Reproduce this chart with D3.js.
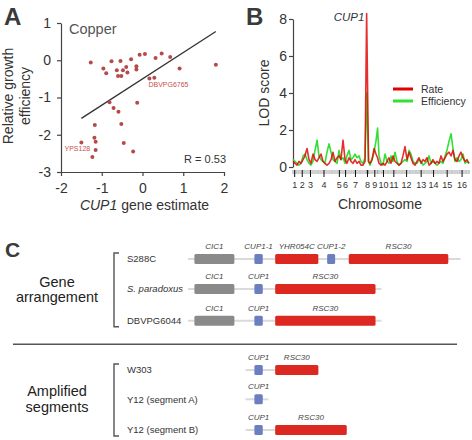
<!DOCTYPE html>
<html><head><meta charset="utf-8">
<script src="https://cdn.jsdelivr.net/npm/d3@7"></script>
<style>body{margin:0;background:#fff} svg{display:block;font-family:"Liberation Sans",Arial,sans-serif}</style>
</head><body><svg id="c" width="472" height="440"></svg>
<script>
// ---------- Panel A data ----------
const cupEstimate = [-1.27,-0.96,-0.89,-0.76,-0.63,-0.54,-0.60,-0.52,-0.48,-0.40,-0.37,-0.28,-0.15,-0.15,-0.07,0.06,0.32,0.47,0.68,0.91,1.80,0.17,0.29,-0.81,-0.13,-0.71,-0.59,-1.17,-0.52,-1.18,-1.15,-1.50,-0.46,-1.15,-1.23,-0.23];
const growthEfficiency = [-0.06,-0.22,-0.35,-0.03,-0.27,-0.02,-0.42,-0.42,-0.27,-0.18,-0.33,0.03,-0.16,-0.25,0.15,0.17,0.06,0.18,0.09,-0.22,-0.12,-0.49,-0.47,-1.13,-1.14,-1.28,-1.38,-1.74,-1.71,-2.08,-2.19,-2.21,-2.22,-2.41,-2.60,-2.45];
const labeledStrains = ["DBVPG6765","YPS128"];
const labeledIndex = [21,31];
const trendX = [-1.5,1.8];
const trendY = [-1.56,0.77];
const aXTicks = [-2,-1,0,1,2];
const aYTicks = [1,0,-1,-2,-3];
const rText = "R = 0.53";

// ---------- Panel B data ----------
const positionsMb = [0.00,0.14,0.27,0.41,0.55,0.69,0.82,0.96,1.10,1.23,1.37,1.51,1.65,1.78,1.92,2.06,2.19,2.33,2.47,2.61,2.74,2.88,3.02,3.16,3.29,3.43,3.57,3.70,3.84,3.98,4.12,4.25,4.39,4.53,4.66,4.80,4.94,5.05,5.18,5.28,5.42,5.56,5.69,5.80,5.90,6.04,6.17,6.31,6.45,6.58,6.72,6.86,7.00,7.13,7.27,7.41,7.54,7.68,7.82,7.96,8.09,8.23,8.37,8.50,8.64,8.78,8.92,9.05,9.19,9.33,9.47,9.60,9.74,9.88,10.01,10.15,10.29,10.43,10.56,10.70,10.84,10.97,11.11,11.25,11.39,11.52,11.66,11.80,11.93,12.07];
const lodRate = [0.3,0.2,0.1,0.3,0.2,0.4,0.6,1.0,0.4,0.2,0.7,0.4,0.3,0.5,0.7,0.3,0.2,0.1,0.2,0.4,0.8,0.3,0.5,0.6,0.4,1.45,0.4,0.2,0.5,0.3,0.2,0.4,0.2,0.3,0.1,0.1,0.3,
  8.3,0.3,0.2,0.4,1.0,0.7,0.5,
  0.2,0.1,0.2,0.1,0.3,0.5,0.2,0.6,0.3,0.2,0.1,0.2,0.6,1.1,0.4,0.8,0.5,0.2,0.1,0.3,0.5,0.2,0.4,0.3,0.5,0.1,0.2,0.4,0.2,0.3,0.2,0.6,0.3,0.5,0.7,0.8,0.6,0.9,0.4,0.3,0.6,0.8,0.5,0.3,0.4,0.2];
const lodEfficiency = [0.4,0.3,0.2,0.1,0.2,0.6,0.7,0.4,0.2,0.1,0.3,0.9,1.45,0.6,0.4,0.3,0.2,0.8,1.25,0.8,0.4,0.3,0.2,0.9,0.4,0.5,0.2,0.6,0.9,0.4,0.5,0.7,0.5,0.6,0.3,0.2,0.5,
  4.0,0.3,0.1,0.4,0.8,1.4,2.1,
  0.6,0.2,0.1,0.7,0.3,0.2,0.6,0.3,0.8,0.3,0.1,0.2,0.3,0.4,0.3,0.9,0.7,0.3,0.2,0.2,0.4,0.3,0.1,0.2,0.3,0.6,0.2,0.3,0.2,0.1,0.2,0.3,0.2,0.6,0.9,1.4,1.8,1.0,0.3,0.5,0.3,0.4,0.7,0.2,0.3,0.2];
const chromNames = ["1","2","3","4","5","6","7","8","9","10","11","12","13","14","15","16"];
const chromLengthsMb = [0.23,0.81,0.32,1.53,0.58,0.27,1.09,0.56,0.44,0.75,0.67,1.08,0.92,0.78,1.09,0.95];
const bYTicks = [0,2,4,6,8];
const seriesNames = ["Rate","Efficiency"];
const peakLabel = "CUP1";

// ---------- Panel C data ----------
const strainNames = ["S288C","S. paradoxus","DBVPG6044","W303","Y12 (segment A)","Y12 (segment B)"];
const strainItalic = [false,true,false,false,false,false];
const trackStart = [0,0,0,14.4,14.4,14.4];
const trackEnd = [68.2,48.4,48.4,32.6,20.1,39.7];
const geneNames = [
  ["CIC1","CUP1-1","YHR054C","CUP1-2","RSC30"],
  ["CIC1","CUP1","RSC30"],
  ["CIC1","CUP1","RSC30"],
  ["CUP1","RSC30"],
  ["CUP1"],
  ["CUP1","RSC30"]];
const geneStart = [[1.6,16.6,21.8,34.8,40.2],[1.6,16.6,21.8],[1.6,16.6,21.8],[16.6,21.8],[16.6],[16.6,21.8]];
const geneEnd = [[11.6,18.7,32.6,36.8,65.1],[11.6,18.7,46.9],[11.6,18.7,46.9],[18.7,32.6],[18.7],[18.7,39.7]];
const geneKind = [["cic","cup","red","cup","red"],["cic","cup","red"],["cic","cup","red"],["cup","red"],["cup"],["cup","red"]];
const groupNames = [["Gene","arrangement"],["Amplified","segments"]];

// ================= Drawing =================
const svg = d3.select("#c");
svg.append("rect").attr("width",472).attr("height",440).attr("fill","#fff");
const txt = "#333", axc = "#444";

// panel letters
[["A",4,25],["B",246,25],["C",5,257]].forEach(([t,x,y])=>{
  svg.append("text").attr("x",x).attr("y",y).text(t)
    .attr("font-size",t==="C"?21:24).attr("font-weight","bold").attr("fill","#3a3a3a");
});

// ----- Panel A -----
const ax = d3.scaleLinear().domain([-2,2]).range([61,224]);
const ay = d3.scaleLinear().domain([-3,1]).range([172,23]);
const gA = svg.append("g");
const yAxA = gA.append("g").attr("transform","translate(61,0)")
  .call(d3.axisLeft(ay).tickValues(aYTicks).tickSize(4).tickSizeOuter(0).tickPadding(6));
const xAxA = gA.append("g").attr("transform","translate(0,172)")
  .call(d3.axisBottom(ax).tickValues(aXTicks).tickSize(4).tickSizeOuter(0).tickPadding(7).tickFormat(d3.format("d")));
[yAxA,xAxA].forEach(g=>{
  g.selectAll("path,line").attr("stroke",axc).attr("stroke-width",1.2);
  g.selectAll("text").attr("font-size",14).attr("fill",txt).attr("font-family","Liberation Sans, Arial, sans-serif");
});
xAxA.selectAll("text").text(d=>d<0?"-"+Math.abs(d):d);
yAxA.selectAll("text").text(d=>d<0?"-"+Math.abs(d):d);

gA.append("line").attr("x1",ax(trendX[0])).attr("y1",ay(trendY[0]))
  .attr("x2",ax(trendX[1])).attr("y2",ay(trendY[1])).attr("stroke","#333").attr("stroke-width",1.3);
gA.selectAll("circle.pt").data(cupEstimate.map((x,i)=>[x,growthEfficiency[i]])).join("circle")
  .attr("cx",d=>ax(d[0])).attr("cy",d=>ay(d[1])).attr("r",2).attr("fill","#b54a4a");
labeledStrains.forEach((name,k)=>{
  const i = labeledIndex[k];
  const px = ax(cupEstimate[i]), py = ay(growthEfficiency[i]);
  const t = gA.append("text").text(name).attr("font-size",7).attr("fill","#c8504c");
  if(k===0) t.attr("x",px-1).attr("y",py+8.5);
  else t.attr("x",px-4).attr("y",py+8.5).attr("text-anchor","middle");
});
gA.append("text").attr("x",69).attr("y",33.5).text("Copper").attr("font-size",14.5).attr("fill","#555");
gA.append("text").attr("x",226).attr("y",163.3).attr("text-anchor","end").text(rText).attr("font-size",11).attr("fill",txt);
const xt = gA.append("text").attr("x",144.5).attr("y",209.5).attr("text-anchor","middle").attr("font-size",14).attr("fill",txt);
xt.append("tspan").attr("font-style","italic").text("CUP1");
xt.append("tspan").text(" gene estimate");
const yt = gA.append("text").attr("transform","translate(13,96) rotate(-90)").attr("text-anchor","middle").attr("font-size",14).attr("fill",txt);
yt.append("tspan").attr("x",0).attr("y",0).text("Relative growth");
yt.append("tspan").attr("x",0).attr("y",17).text("efficiency");

// ----- Panel B -----
const bx = d3.scaleLinear().domain([0,d3.sum(chromLengthsMb)]).range([293,469]);
const by = d3.scaleLinear().domain([0,8]).range([167,19]);
const gB = svg.append("g");
const yAxB = gB.append("g").attr("transform","translate(293,0)")
  .call(d3.axisLeft(by).tickValues(bYTicks).tickSize(4).tickSizeOuter(0).tickPadding(2));
yAxB.selectAll("path,line").attr("stroke",axc).attr("stroke-width",1.2);
yAxB.selectAll("text").attr("font-size",14).attr("fill",txt).attr("font-family","Liberation Sans, Arial, sans-serif");

// marker ticks
gB.selectAll("line.mk").data(positionsMb).join("line")
  .attr("x1",d=>bx(d)).attr("x2",d=>bx(d)).attr("y1",170).attr("y2",174)
  .attr("stroke","#888").attr("stroke-width",0.8);
let cum = 0;
const chromCenters = chromLengthsMb.map(l=>{const c=cum+l/2; cum+=l; return c;});
gB.selectAll("line.ch").data(chromCenters).join("line")
  .attr("x1",d=>bx(d)).attr("x2",d=>bx(d)).attr("y1",170).attr("y2",177)
  .attr("stroke","#111").attr("stroke-width",1);
gB.selectAll("text.ch").data(chromNames).join("text")
  .attr("x",(d,i)=>bx(chromCenters[i])).attr("y",187.5).attr("text-anchor","middle")
  .attr("font-size",9).attr("fill",txt).text(d=>d);

const line = d3.line().x((d,i)=>bx(positionsMb[i])).y(d=>by(d));
gB.append("path").datum(lodEfficiency).attr("d",line).attr("fill","none")
  .attr("stroke","#33e033").attr("stroke-width",1.6).attr("stroke-linejoin","round");
gB.append("path").datum(lodRate).attr("d",line).attr("fill","none")
  .attr("stroke","#e00000").attr("stroke-width",1.6).attr("stroke-opacity",0.82).attr("stroke-linejoin","round");

gB.append("text").attr("x",349).attr("y",21).attr("text-anchor","middle").attr("font-style","italic")
  .attr("font-size",11.5).attr("fill",txt).text(peakLabel);
const legCol = ["#e00000","#33e033"];
seriesNames.forEach((s,i)=>{
  const y = 89 + i*12;
  gB.append("line").attr("x1",393).attr("x2",413).attr("y1",y).attr("y2",y).attr("stroke",legCol[i]).attr("stroke-width",3);
  gB.append("text").attr("x",421).attr("y",y+3.8).text(s).attr("font-size",10.5).attr("fill",txt);
});
gB.append("text").attr("transform","translate(268.5,93) rotate(-90)").attr("text-anchor","middle")
  .attr("font-size",14).attr("fill",txt).text("LOD score");
gB.append("text").attr("x",380).attr("y",209).attr("text-anchor","middle").attr("font-size",14).attr("fill",txt).text("Chromosome");

// ----- Panel C -----
const cx = d3.scaleLinear().domain([0,68.2]).range([188,460.7]);
const rowY = [259,289,320.7,370,399.3,430];
const kindColor = {cic:"#8a8a8a", cup:"#6b7ebf", red:"#dc2820"};
const gC = svg.append("g");
strainNames.forEach((name,i)=>{
  const y = rowY[i];
  gC.append("text").attr("x",127).attr("y",y+3.4).attr("font-size",9.5).attr("fill",txt)
    .attr("font-style",strainItalic[i]?"italic":"normal").text(name);
  gC.append("line").attr("x1",cx(trackStart[i])).attr("x2",cx(trackEnd[i])).attr("y1",y).attr("y2",y)
    .attr("stroke","#dadada").attr("stroke-width",2);
  geneNames[i].forEach((g,j)=>{
    const x0 = cx(geneStart[i][j]), x1 = cx(geneEnd[i][j]);
    gC.append("rect").attr("x",x0).attr("y",y-5).attr("width",x1-x0).attr("height",10)
      .attr("rx",1.5).attr("fill",kindColor[geneKind[i][j]]);
    gC.append("text").attr("x",(x0+x1)/2).attr("y",y-10).attr("text-anchor","middle")
      .attr("font-size",8).attr("font-style","italic").attr("fill","#444").text(g);
  });
});
// brackets
[[0,2],[3,5]].forEach(([a,b])=>{
  const y0 = rowY[a]-6, y1 = rowY[b]+6;
  gC.append("path").attr("d",`M119,${y0}H114V${y1}H119`).attr("fill","none").attr("stroke","#555").attr("stroke-width",1.4);
});
gC.append("line").attr("x1",13).attr("x2",457).attr("y1",344.3).attr("y2",344.3).attr("stroke","#555").attr("stroke-width",1.4);
const groupBase = [[286.5,302],[396,411.7]];
groupNames.forEach((lines,k)=>{
  lines.forEach((l,j)=>{
    gC.append("text").attr("x",57).attr("y",groupBase[k][j]).attr("text-anchor","middle")
      .attr("font-size",14.5).attr("fill","#222").text(l);
  });
});
</script></body></html>
